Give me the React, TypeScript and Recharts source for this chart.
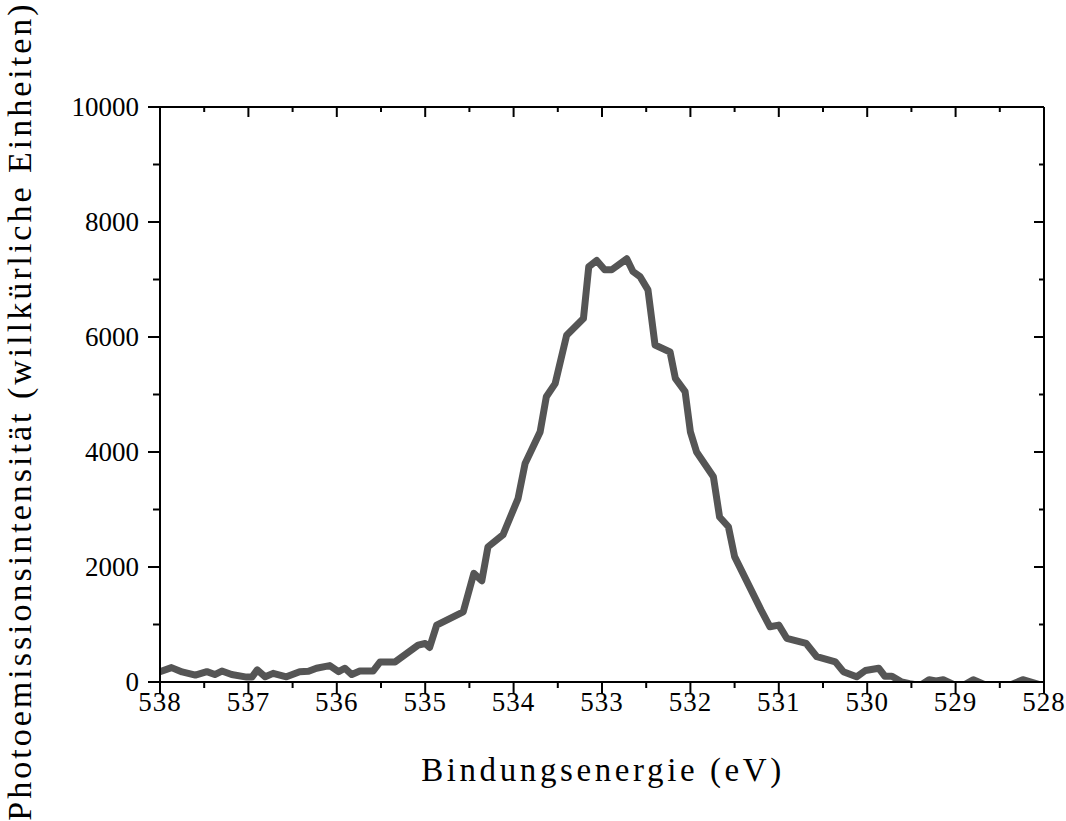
import { LineChart, Line, XAxis, YAxis } from "recharts"

// Binding energy (eV) and intensity
const energy = [
  538.0, 537.87, 537.75, 537.6, 537.47, 537.38, 537.3, 537.19, 537.02, 536.96,
  536.9, 536.81, 536.72, 536.57, 536.42, 536.32, 536.23, 536.08, 535.98, 535.91,
  535.83, 535.74, 535.59, 535.51, 535.34, 535.08, 535.0, 534.95, 534.87, 534.57,
  534.45, 534.36, 534.29, 534.12, 533.95, 533.87, 533.7, 533.63, 533.53, 533.4,
  533.21, 533.15, 533.06, 532.97, 532.89, 532.72, 532.65, 532.57, 532.48, 532.4,
  532.23, 532.17, 532.06, 532.0, 531.93, 531.74, 531.67, 531.57, 531.5, 531.2,
  531.1, 531.0, 530.91, 530.69, 530.57, 530.36, 530.27, 530.12, 530.02, 529.87,
  529.8, 529.72, 529.61, 529.52, 529.4, 529.3, 529.22, 529.14, 529.0, 528.9,
  528.8, 528.65, 528.5, 528.38, 528.24, 528.06,
]
const intensity = [
  180, 250, 175, 120, 180, 130, 190, 130, 85, 85,
  210, 90, 150, 90, 180, 185, 240, 285, 180, 240,
  130, 190, 190, 350, 350, 640, 670, 600, 990, 1220,
  1890, 1760, 2350, 2560, 3190, 3800, 4350, 4960, 5190, 6030,
  6320, 7220, 7330, 7170, 7170, 7360, 7140, 7050, 6820, 5860,
  5740, 5280, 5050, 4350, 4000, 3570, 2870, 2700, 2180, 1250,
  960, 990, 760, 670, 440, 350, 180, 90, 200, 240,
  100, 100, 0, -30, -60, 40, 20, 40, -60, -50,
  40, -60, -70, -50, 40, -40,
]

const xTicks = [538, 537.5, 537, 536.5, 536, 535.5, 535, 534.5, 534, 533.5, 533, 532.5, 532, 531.5, 531, 530.5, 530, 529.5, 529, 528.5, 528]
const yTicks = [0, 1000, 2000, 3000, 4000, 5000, 6000, 7000, 8000, 9000, 10000]

const data = energy.map((e, i) => ({ e, v: intensity[i] }))

const font = "'Liberation Serif', 'Times New Roman', serif"

const isMajorX = (v: number) => Number.isInteger(v)
const isMajorY = (v: number) => v % 2000 === 0

function BottomTick(props: any) {
  const { x, y, payload } = props
  const major = isMajorX(payload.value)
  return (
    <g>
      <line x1={x} y1={y} x2={x} y2={y + (major ? 12 : 6)} stroke="#000" strokeWidth={2} />
      {major && (
        <text x={x} y={y + 29} textAnchor="middle" fontFamily={font} fontSize={27} letterSpacing={1} fill="#000">
          {payload.value}
        </text>
      )}
    </g>
  )
}

function TopTick(props: any) {
  const { x, y, payload } = props
  const major = isMajorX(payload.value)
  return <line x1={x} y1={y} x2={x} y2={y + (major ? 10 : 5)} stroke="#000" strokeWidth={2} />
}

function LeftTick(props: any) {
  const { x, y, payload } = props
  const major = isMajorY(payload.value)
  return (
    <g>
      <line x1={x} y1={y} x2={x - (major ? 12 : 7)} y2={y} stroke="#000" strokeWidth={2} />
      {major && (
        <text x={x - 21} y={y} dy="0.35em" textAnchor="end" fontFamily={font} fontSize={27} fill="#000">
          {payload.value}
        </text>
      )}
    </g>
  )
}

function RightTick(props: any) {
  const { x, y, payload } = props
  const major = isMajorY(payload.value)
  return <line x1={x} y1={y} x2={x - (major ? 10 : 5)} y2={y} stroke="#000" strokeWidth={2} />
}

const axisLine = { stroke: "#000", strokeWidth: 2 }

export default function App() {
  return (
    <div style={{ position: "absolute", left: 0, top: 0, width: 1066, height: 821, background: "#fff" }}>
      <LineChart width={1066} height={821} data={data} margin={{ top: 106, right: 21, bottom: 79, left: 0 }}>
        <XAxis
          dataKey="e"
          type="number"
          domain={[528, 538]}
          reversed
          allowDataOverflow
          ticks={xTicks}
          interval={0}
          height={60}
          tickSize={0}
          tickMargin={0}
          tickLine={false}
          axisLine={axisLine}
          tick={<BottomTick />}
        />
        <XAxis
          xAxisId="top"
          orientation="top"
          dataKey="e"
          type="number"
          domain={[528, 538]}
          reversed
          allowDataOverflow
          ticks={xTicks}
          interval={0}
          height={1}
          tickSize={0}
          tickMargin={0}
          tickLine={false}
          axisLine={axisLine}
          tick={<TopTick />}
        />
        <YAxis
          type="number"
          domain={[0, 10000]}
          allowDataOverflow
          ticks={yTicks}
          interval={0}
          width={160}
          tickSize={0}
          tickMargin={0}
          tickLine={false}
          axisLine={axisLine}
          tick={<LeftTick />}
        />
        <YAxis
          yAxisId="right"
          orientation="right"
          type="number"
          domain={[0, 10000]}
          allowDataOverflow
          ticks={yTicks}
          interval={0}
          width={1}
          tickSize={0}
          tickMargin={0}
          tickLine={false}
          axisLine={axisLine}
          tick={<RightTick />}
        />
        <Line
          dataKey="v"
          type="linear"
          stroke="#555555"
          strokeWidth={7}
          strokeLinejoin="round"
          dot={false}
          isAnimationActive={false}
        />
      </LineChart>
      <div
        style={{
          position: "absolute",
          left: 603,
          top: 770,
          transform: "translate(-50%, -50%)",
          fontFamily: font,
          fontSize: 33,
          letterSpacing: 3.6,
          whiteSpace: "nowrap",
        }}
      >
        Bindungsenergie (eV)
      </div>
      <div
        style={{
          position: "absolute",
          left: 20,
          top: 411,
          transform: "translate(-50%, -50%) rotate(-90deg)",
          fontFamily: font,
          fontSize: 34,
          letterSpacing: 3,
          whiteSpace: "nowrap",
        }}
      >
        Photoemissionsintensität (willkürliche Einheiten)
      </div>
    </div>
  )
}
